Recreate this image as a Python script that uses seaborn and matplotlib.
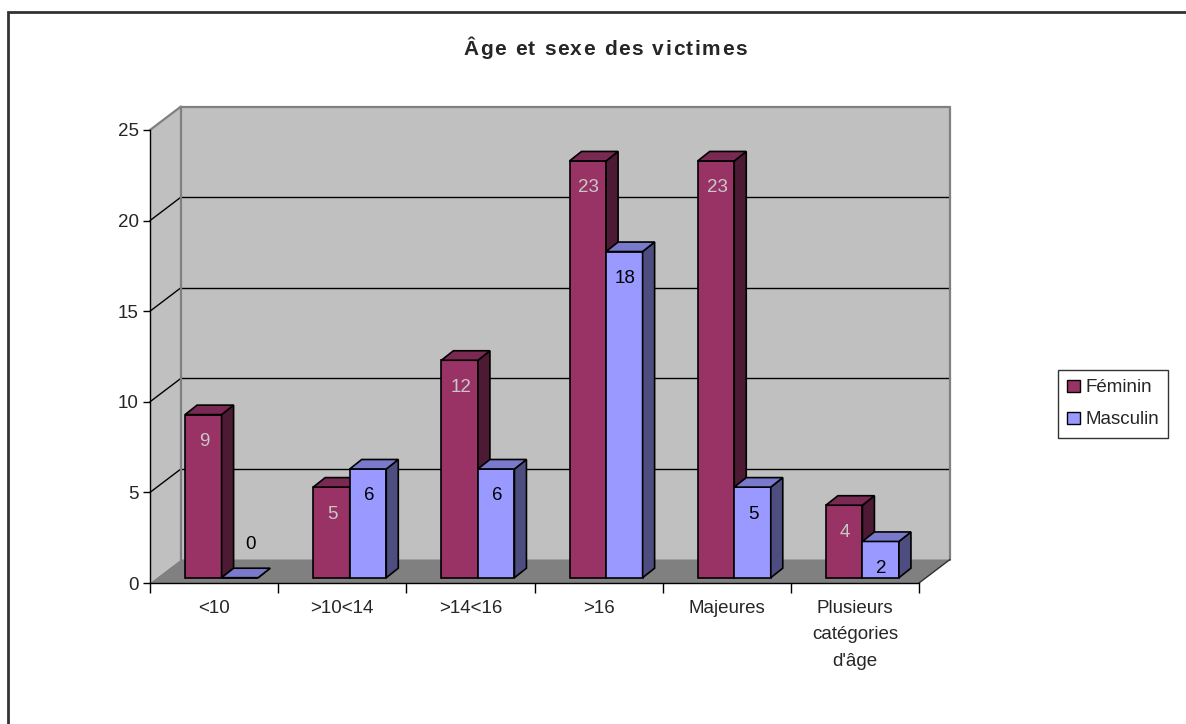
import matplotlib
matplotlib.use("Agg")
import matplotlib.pyplot as plt
import numpy as np
import pandas as pd
import seaborn as sns
from matplotlib.patches import Polygon, Rectangle
from matplotlib.lines import Line2D
from matplotlib.transforms import ScaledTranslation, IdentityTransform
from matplotlib.font_manager import FontProperties, findfont, get_font

# ---- data -------------------------------------------------------------
categories = ["<10", ">10<14", ">14<16", ">16", "Majeures",
              "Plusieurs\ncatégories\nd'âge"]
feminin = [9, 5, 12, 23, 23, 4]
masculin = [0, 6, 6, 18, 5, 2]
series_names = ["Féminin", "Masculin"]
y_ticks = [0, 5, 10, 15, 20, 25]
title = "Âge et sexe des victimes"

# ---- style ------------------------------------------------------------
front_colors = ["#993366", "#9999ff"]
top_colors = ["#7a2952", "#7a7acc"]
side_colors = ["#4d1a33", "#4d4d80"]
label_colors = ["#c8c8c8", "#000000"]

sns.set_style("white")
plt.rcParams["font.family"] = ["Liberation Sans", "DejaVu Sans"]
FS = 13.5

W, H, DPI = 1186, 724, 100
fig = plt.figure(figsize=(W / DPI, H / DPI), dpi=DPI)
fig.patch.set_facecolor("white")

# front plane of the 3-D box, in pixels
X0, X1, Y0, Y1 = 150, 919, 583, 130
ax = fig.add_axes([X0 / W, 1 - Y0 / H, (X1 - X0) / W, (Y0 - Y1) / H])
ax.set_facecolor("none")

WALL_DEPTH = (31, -23.5)   # back wall offset (px right, px down)
BAR_SHIFT = (7.5, -5.3)     # bars sit a little behind the front plane
BAR_DEPTH = (12, -9.5)      # thickness of each column


def px(dx, dy):
    return ScaledTranslation(dx / DPI, -dy / DPI, fig.dpi_scale_trans)


# ---- bars (front faces) ----------------------------------------------
df = pd.DataFrame({
    "categorie": categories * 2,
    "sexe": [series_names[0]] * len(categories) + [series_names[1]] * len(categories),
    "valeur": feminin + masculin,
})
sns.barplot(data=df, x="categorie", y="valeur", hue="sexe", order=categories,
            hue_order=series_names, palette=front_colors, saturation=1,
            width=0.57, gap=0, edgecolor="black", linewidth=1.2,
            legend=False, ax=ax)
bars = sorted([p for p in ax.patches if isinstance(p, Rectangle)],
              key=lambda p: p.get_x())

ax.set_xlim(-0.5, len(categories) - 0.5)
ax.set_ylim(0, 25)
ax.set_xlabel("")
ax.set_ylabel("")


def disp(x, y, off=(0, 0)):
    """Data point -> display coords, plus a pixel offset (right, down)."""
    X, Y = ax.transData.transform((x, y))
    return (X + off[0], Y - off[1])


def poly(points, fc, ec="none", lw=1.0, z=0.5):
    p = Polygon(points, closed=True, facecolor=fc, edgecolor=ec, linewidth=lw,
                transform=IdentityTransform(), zorder=z, clip_on=False,
                joinstyle="miter")
    ax.add_artist(p)
    return p


def line(p, q, color, lw=1.0, z=0.7):
    ax.add_line(Line2D([p[0], q[0]], [p[1], q[1]], color=color, linewidth=lw,
                       transform=IdentityTransform(), zorder=z, clip_on=False))


xa, xb = ax.get_xlim()
ya, yb = ax.get_ylim()

# ---- walls and floor --------------------------------------------------
wall_gray, edge_gray = "#c0c0c0", "#808080"
poly([disp(xa, ya, WALL_DEPTH), disp(xb, ya, WALL_DEPTH),
      disp(xb, yb, WALL_DEPTH), disp(xa, yb, WALL_DEPTH)], wall_gray, z=0.2)
poly([disp(xa, ya), disp(xa, yb), disp(xa, yb, WALL_DEPTH),
      disp(xa, ya, WALL_DEPTH)], wall_gray, z=0.2)
poly([disp(xa, ya), disp(xb, ya), disp(xb, ya, WALL_DEPTH),
      disp(xa, ya, WALL_DEPTH)], "#808080", z=0.3)

# gridlines on back and side walls
for v in y_ticks[1:-1]:
    line(disp(xa, v, WALL_DEPTH), disp(xb, v, WALL_DEPTH), "black", 1.0, 0.4)
    line(disp(xa, v), disp(xa, v, WALL_DEPTH), "black", 1.0, 0.4)

# wall outlines
line(disp(xa, yb, WALL_DEPTH), disp(xb, yb, WALL_DEPTH), edge_gray, 1.6, 0.45)
line(disp(xa, ya, WALL_DEPTH), disp(xa, yb, WALL_DEPTH), edge_gray, 1.6, 0.45)
line(disp(xb, ya, WALL_DEPTH), disp(xb, yb, WALL_DEPTH), edge_gray, 1.6, 0.45)
line(disp(xa, yb), disp(xa, yb, WALL_DEPTH), edge_gray, 1.6, 0.45)
line(disp(xb, ya), disp(xb, ya, WALL_DEPTH), "#303030", 1.0, 0.45)

# ---- 3-D columns: sides, tops, labels ---------------------------------
for k, bar in enumerate(bars):
    x, w, h = bar.get_x(), bar.get_width(), bar.get_height()
    s = 0 if k % 2 == 0 else 1
    z = 10 + 3 * k
    bar.set_transform(ax.transData + px(*BAR_SHIFT))
    bar.set_zorder(z)
    bar.set_clip_on(False)
    fl = disp(x, h, BAR_SHIFT)
    fr = disp(x + w, h, BAR_SHIFT)
    br = disp(x + w, 0, BAR_SHIFT)
    d = BAR_DEPTH
    side = [br, fr, (fr[0] + d[0], fr[1] - d[1]), (br[0] + d[0], br[1] - d[1])]
    top = [fl, fr, (fr[0] + d[0], fr[1] - d[1]), (fl[0] + d[0], fl[1] - d[1])]
    poly(side, side_colors[s], "black", 1.2, z + 1)
    poly(top, top_colors[s], "black", 1.2, z + 2)

    cx, cy = disp(x + w / 2, h, BAR_SHIFT)
    if h > 0:
        ty, col = cy - 27, label_colors[s]
    else:
        cx, ty, col = cx + 10, cy + 33, "black"
    ax.text(cx + 1, ty, f"{h:g}", transform=IdentityTransform(), ha="center",
            va="center", fontsize=FS, color=col, zorder=200, clip_on=False)

# ---- axes, ticks ------------------------------------------------------
for side_name in ["top", "right"]:
    ax.spines[side_name].set_visible(False)
for side_name in ["left", "bottom"]:
    ax.spines[side_name].set_color("black")
    ax.spines[side_name].set_linewidth(1.0)
    ax.spines[side_name].set_zorder(1)

ax.set_yticks(y_ticks)
ax.set_yticklabels([f"{t}" for t in y_ticks], fontsize=FS)
ax.tick_params(axis="y", left=True, length=5, width=1, color="black", pad=3,
               direction="out")

ax.set_xticks(np.arange(xa, xb + 0.01, 1.0))
ax.set_xticklabels([])
ax.set_xticks(np.arange(len(categories)), minor=True)
ax.set_xticklabels(categories, minor=True, fontsize=FS, linespacing=1.7)
ax.tick_params(axis="x", which="major", bottom=True, length=7, width=1,
               color="black", direction="out")
ax.tick_params(axis="x", which="minor", bottom=True, length=0, pad=12.5)

# ---- title (bold, slightly letter-spaced) -----------------------------
TITLE_FS, TRACK = 15, 1.6
tprop = FontProperties(family="Liberation Sans", weight="bold", size=TITLE_FS)
tfont = get_font(findfont(tprop))
tfont.set_size(TITLE_FS, DPI)
advances = [tfont.load_char(ord(c)).linearHoriAdvance / 65536 for c in title]
total = sum(advances) + TRACK * (len(title) - 1)
tx, ty = 605 - total / 2, H - 55
for c, a in zip(title, advances):
    fig.text(tx / W, ty / H, c, ha="left", va="baseline",
             fontproperties=tprop)
    tx += a + TRACK

# ---- legend and frame -------------------------------------------------
handles = [Rectangle((0, 0), 1, 1, facecolor=c, edgecolor="black", linewidth=1)
           for c in front_colors]
leg = fig.legend(handles, series_names, loc="upper left",
                 bbox_to_anchor=(1058 / W, 1 - 370 / H), frameon=True,
                 fancybox=False, shadow=False, fontsize=FS, borderaxespad=0,
                 handlelength=0.65, handleheight=0.65, handletextpad=0.3,
                 borderpad=0.5, labelspacing=0.8)
leg.get_frame().set_edgecolor("black")
leg.get_frame().set_linewidth(1.0)

fig.add_artist(Rectangle((8 / W, -0.5), 2.0, 1.5 - 12 / H, transform=fig.transFigure,
                         fill=False, edgecolor="#333333", linewidth=2.0,
                         zorder=0))

fig.savefig("out.png", dpi=DPI)
